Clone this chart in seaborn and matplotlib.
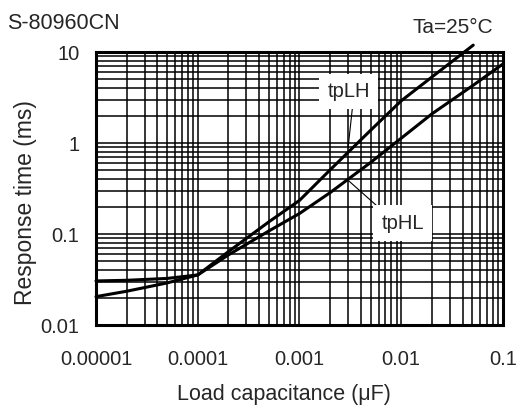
import numpy as np
import pandas as pd
import seaborn as sns
import matplotlib
matplotlib.use("Agg")
import matplotlib.pyplot as plt
from matplotlib.ticker import LogLocator, FixedLocator, FixedFormatter, NullFormatter

sns.set_style("white")
plt.rcParams["font.family"] = ["Liberation Sans", "DejaVu Sans"]

# Load capacitance (uF) and response times (ms)
cap_lh = [1e-5, 2e-5, 5e-5, 1e-4, 2e-4, 5e-4, 1e-3, 2e-3, 5e-3, 1e-2, 2e-2, 5.1e-2]
tp_lh = [0.0305, 0.031, 0.0325, 0.0355, 0.064, 0.136, 0.234, 0.507, 1.38, 2.91, 5.31, 11.9]

cap_hl = [1e-5, 2e-5, 5e-5, 1e-4, 2e-4, 5e-4, 1e-3, 2e-3, 5e-3, 1e-2, 2e-2, 5e-2, 1e-1]
tp_hl = [0.0205, 0.0235, 0.029, 0.0355, 0.0589, 0.108, 0.168, 0.285, 0.611, 1.13, 2.09, 4.25, 7.4]

x_ticks = [1e-5, 1e-4, 1e-3, 1e-2, 1e-1]
x_labels = ["0.00001", "0.0001", "0.001", "0.01", "0.1"]
y_ticks = [0.01, 0.1, 1, 10]
y_labels = ["0.01", "0.1", "1", "10"]

df = pd.concat([
    pd.DataFrame({"cap": cap_lh, "t": tp_lh, "curve": "tpLH"}),
    pd.DataFrame({"cap": cap_hl, "t": tp_hl, "curve": "tpHL"}),
])

fig = plt.figure(figsize=(5.2, 4.08), dpi=100)
ax = fig.add_axes([0.1846, 0.2034, 0.7827, 0.6691])
ax.set_xscale("log")
ax.set_yscale("log")
ax.set_xlim(1e-5, 0.1)
ax.set_ylim(0.01, 10)

# log grid: every 1..9 multiple of each decade
ax.xaxis.set_major_locator(FixedLocator(x_ticks))
ax.xaxis.set_major_formatter(FixedFormatter(x_labels))
ax.xaxis.set_minor_locator(LogLocator(base=10, subs=np.arange(2, 10)))
ax.xaxis.set_minor_formatter(NullFormatter())
ax.yaxis.set_major_locator(FixedLocator(y_ticks))
ax.yaxis.set_major_formatter(FixedFormatter(y_labels))
ax.yaxis.set_minor_locator(LogLocator(base=10, subs=np.arange(2, 10)))
ax.yaxis.set_minor_formatter(NullFormatter())
ax.grid(True, which="both", color="black", linewidth=1.1)
ax.tick_params(which="both", length=0, labelsize=14.5)
ax.tick_params(axis="x", pad=18)
ax.tick_params(axis="y", pad=12)

sns.lineplot(data=df, x="cap", y="t", units="curve", estimator=None,
             color="black", linewidth=2.2, ax=ax, clip_on=False, sort=False)

for s in ax.spines.values():
    s.set_linewidth(2.2)
    s.set_color("black")

ax.set_xlabel("Load capacitance (\u03bcF)", fontsize=15.5)
ax.set_ylabel("Response time (ms)", fontsize=16.5)
ax.xaxis.set_label_coords(0.4607, -0.216)
ax.yaxis.set_label_coords(-0.146, 0.45)

fig.text(0.013, 0.928, "S-80960CN", fontsize=15.5, ha="left", va="baseline")
fig.text(0.948, 0.919, "Ta=25\u00b0C", fontsize=15, ha="right", va="baseline")

box = dict(facecolor="white", edgecolor="none", pad=6)
ax.annotate("tpLH", xy=(3.0e-3, 0.88), xytext=(3.06e-3, 3.7),
            fontsize=14.5, ha="center", va="center", bbox=box,
            arrowprops=dict(arrowstyle="-", color="black", linewidth=0.8,
                            shrinkA=0, shrinkB=0, relpos=(0.6, 0.0)))
ax.annotate("tpHL", xy=(3.0e-3, 0.39), xytext=(1.03e-2, 0.132),
            fontsize=14.5, ha="center", va="center", bbox=box,
            arrowprops=dict(arrowstyle="-", color="black", linewidth=0.8,
                            shrinkA=0, shrinkB=0, relpos=(0.1, 1.0)))

if ax.get_legend():
    ax.get_legend().remove()

fig.savefig("out.png", dpi=100)
